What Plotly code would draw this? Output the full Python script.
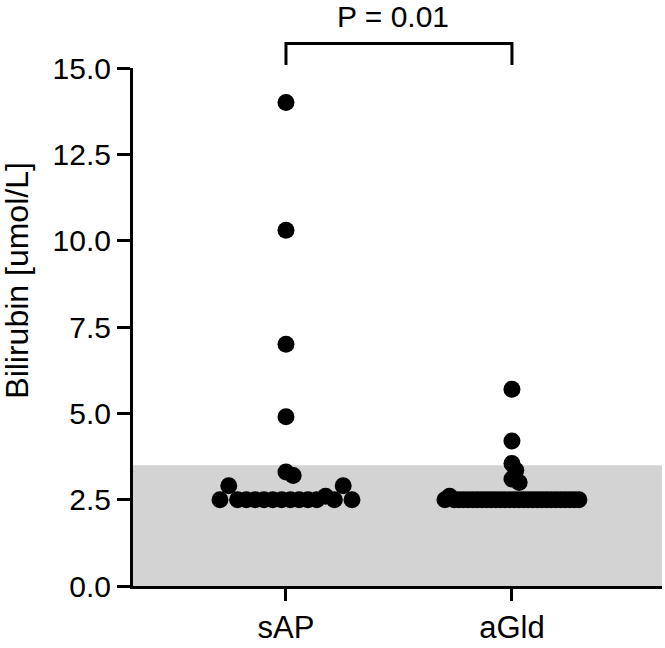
import math
import plotly.graph_objects as go

# ---- data ----
categories = ["sAP", "aGld"]
sAP_upper = [14.0, 10.3, 7.0, 4.9, 3.3, 3.2]
sAP_row = [2.5, 2.9] + [2.5] * 10 + [2.6, 2.5, 2.9, 2.5]
aGld_upper = [5.7, 4.2, 3.55, 3.35, 3.1, 3.0]
aGld_row = [2.5, 2.6] + [2.5] * 28
y_ticks = [0, 2.5, 5, 7.5, 10, 12.5, 15]
normal_range = [0, 3.5]
p_label = "P = 0.01"

# ---- layout constants ----
W, H = 665, 648
ML, MR, MT, MB = 133, 3, 68, 54
XR = [-0.677, 1.664]
YR = [0, 15]
plot_w = W - ML - MR
plot_h = H - MT - MB
px_per_x = plot_w / (XR[1] - XR[0])
px_per_y = plot_h / (YR[1] - YR[0])
MSIZE = 17
MIN_D = 8.0


def row_offsets(n, max_w=134, step=8.8):
    w = min((n - 1) * step, max_w)
    if n == 1:
        return [0.0]
    return [(-w / 2 + i * w / (n - 1)) / px_per_x for i in range(n)]


def swarm_offsets(vals):
    placed = []  # (xpx, ypx)
    out = []
    for v in vals:
        ypx = v * px_per_y
        cands = [0.0]
        for (xp, yp) in placed:
            dy = abs(ypx - yp)
            if dy < MIN_D:
                dx = math.sqrt(MIN_D ** 2 - dy ** 2)
                cands += [xp - dx - 1e-6, xp + dx + 1e-6]

        def ok(x):
            for (xp, yp) in placed:
                if (x - xp) ** 2 + (ypx - yp) ** 2 < MIN_D ** 2 - 1e-3:
                    return False
            return True
        valid = [c for c in cands if ok(c)]
        valid.sort(key=lambda c: (abs(round(c, 3)), -c))
        x = valid[0]
        placed.append((x, ypx))
        out.append(x / px_per_x)
    return out


fig = go.Figure()
for ci, (upper, row) in enumerate([(sAP_upper, sAP_row), (aGld_upper, aGld_row)]):
    xs = [ci + o for o in row_offsets(len(row))] + [ci + o for o in swarm_offsets(upper)]
    ys = list(row) + list(upper)
    fig.add_trace(go.Scatter(
        x=xs, y=ys, mode="markers",
        marker=dict(size=MSIZE, color="black", line=dict(width=0)),
        showlegend=False, cliponaxis=False, hoverinfo="skip",
    ))

fig.add_shape(type="rect", xref="paper", yref="y", x0=0, x1=1,
              y0=normal_range[0], y1=normal_range[1],
              fillcolor="#d3d3d3", line=dict(width=0), layer="below")


def xpaper(x):
    return (x - XR[0]) / (XR[1] - XR[0])


def ypaper_px(py):  # pixel from top -> paper
    return (H - MB - py) / plot_h


bx0, bx1 = xpaper(0), xpaper(1)
by_top, by_bot = ypaper_px(43), ypaper_px(65)
fig.add_shape(type="path", xref="paper", yref="paper",
              path=f"M {bx0},{by_bot} L {bx0},{by_top} L {bx1},{by_top} L {bx1},{by_bot}",
              line=dict(color="black", width=3))
fig.add_annotation(x=(bx0 + bx1) / 2 - 0.012, y=ypaper_px(16), xref="paper", yref="paper",
                   text=p_label, showarrow=False, yanchor="middle",
                   font=dict(size=30, color="black"))
fig.add_annotation(x=-(ML - 17) / plot_w, y=ypaper_px(284), xref="paper", yref="paper",
                   text="Bilirubin [umol/L]", textangle=-90, showarrow=False,
                   xanchor="center", yanchor="middle",
                   font=dict(size=32, color="black"))

fig.update_layout(
    width=W, height=H,
    margin=dict(l=ML, r=MR, t=MT, b=MB, pad=0),
    plot_bgcolor="white", paper_bgcolor="white",
    font=dict(family="Liberation Sans, Arial, sans-serif", size=30, color="black"),
    xaxis=dict(range=XR, tickvals=[0, 1], ticktext=categories,
               showgrid=False, zeroline=False, showline=True, linecolor="black",
               linewidth=3, ticks="outside", ticklen=12, tickwidth=3, tickcolor="black",
               tickfont=dict(size=31)),
    yaxis=dict(range=YR, tickvals=y_ticks, tickformat=".1f",
               showgrid=False, zeroline=False, showline=True, linecolor="black",
               linewidth=3, ticks="outside", ticklen=13, tickwidth=3, tickcolor="black",
               tickfont=dict(size=30)),
)

fig.write_html("out.html")
